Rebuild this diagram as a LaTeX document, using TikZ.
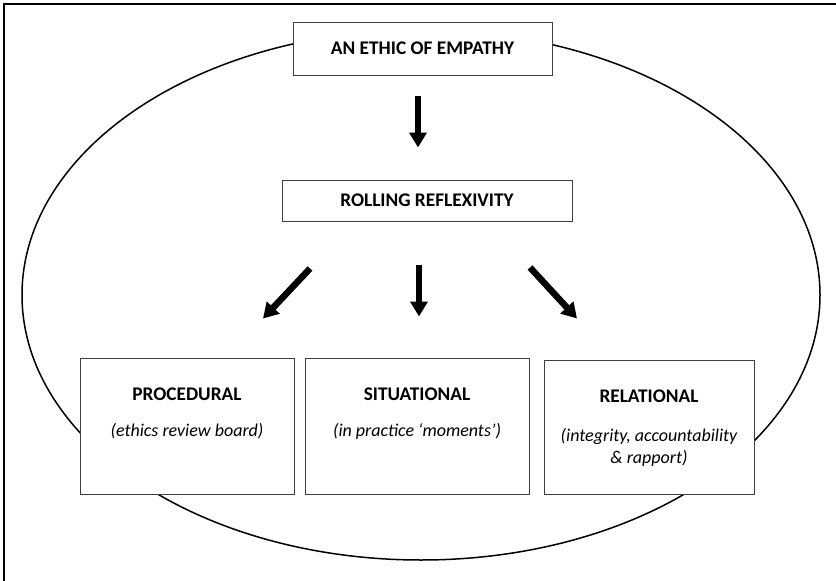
\documentclass[tikz,border=0pt]{standalone}
\usepackage{fontspec}
\setmainfont{Carlito}
\usetikzlibrary{%
        arrows.meta,
        positioning,
        shapes.geometric,
    }
\definecolor{boxline}{HTML}{3F3F3F}
\tikzset{%
    panel/.style={%
        draw=boxline,
        fill=white,
        line width=1pt,
        inner sep=0pt,
    },
    heading/.style={%
        font=\fontsize{19.3}{22}\selectfont\bfseries,
        inner sep=1pt,
    },
    gloss/.style={%
        font=\fontsize{18}{22}\selectfont\itshape,
        align=center,
        inner sep=1pt,
    },
    fatarrow/.style={%
        line width=6.5pt,
        -{Triangle[length=15pt, width=17pt]},
    },
}

\begin{document}
\begin{tikzpicture}[x=1pt, y=-1pt]

    \useasboundingbox (0, 0) rectangle (836, 581);

    %%%%%%%%%
    % Frame %
    %%%%%%%%%
    \draw[line width=2.5pt] (4, 581) -- (4, 4) -- (836, 4);

    \node[%
        draw,
        ellipse,
        line width=1.5pt,
        inner sep=0pt,
        minimum width=798pt,
        minimum height=530pt,
    ] (field) at (421, 295) {};

    %%%%%%%%%%%%%%%
    % Upper boxes %
    %%%%%%%%%%%%%%%
    \node[panel, minimum width=259pt, minimum height=53pt]
        (empathy) at (422.5, 48.5) {};
    \node[heading] (empathy-title) at (empathy) {AN ETHIC OF EMPATHY};

    \node[panel, minimum width=290pt, minimum height=41pt]
        (rolling) at (427, 200.5) {};
    \node[heading] (rolling-title) at (rolling) {ROLLING REFLEXIVITY};

    %%%%%%%%%%%%%%%%
    % Lower panels %
    %%%%%%%%%%%%%%%%
    \node[panel, minimum width=214pt, minimum height=136pt]
        (proc) at (187, 426) {};
    \node[panel, minimum width=224pt, minimum height=136pt]
        (situ) at (417, 426) {};
    \node[panel, minimum width=210pt, minimum height=134pt]
        (rel) at (649, 427) {};

    \foreach \pan/\lab in {%
        proc/PROCEDURAL, situ/SITUATIONAL, rel/RELATIONAL%
    }{%
        \node[heading] (\pan-title) at ([yshift=-37pt] \pan.north) {\lab};
    };

    \node[gloss, below=20pt of proc-title] (proc-note)
        {(ethics review board)};
    \node[gloss, below=20pt of situ-title] (situ-note)
        {(in practice ‘moments’)};
    \node[gloss, below=23pt of rel-title] (rel-note)
        {(integrity, accountability\\ \& rapport)};

    %%%%%%%%%%
    % Arrows %
    %%%%%%%%%%
    \draw[fatarrow] ([xshift=-4.5pt, yshift=-20pt] empathy.south)
        -- ([xshift=-9pt, yshift=32pt] rolling.north);
    \draw[fatarrow] ([xshift=-117pt, yshift=-47pt] rolling.south)
        -- ([xshift=76pt, yshift=39pt] proc.north);
    \draw[fatarrow] ([xshift=-8pt, yshift=-43pt] rolling.south)
        -- ([xshift=2pt, yshift=41pt] situ.north);
    \draw[fatarrow] ([xshift=103pt, yshift=-46pt] rolling.south)
        -- ([xshift=-72pt, yshift=41pt] rel.north);

\end{tikzpicture}
\end{document}
